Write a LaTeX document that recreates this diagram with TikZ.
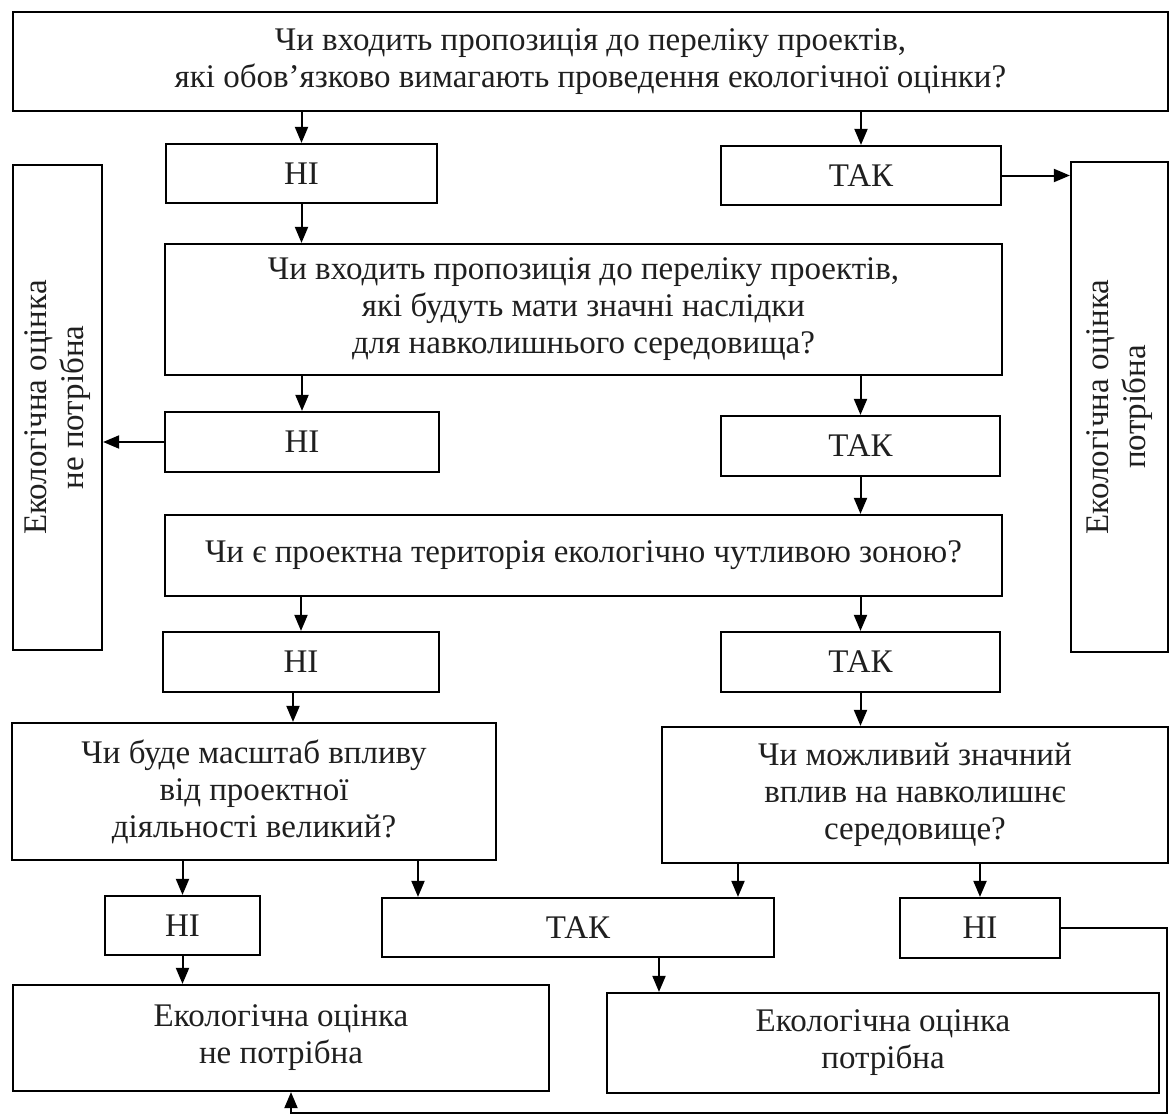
\documentclass[tikz,border=0pt]{standalone}
\usepackage{fontspec}
\setmainfont{Liberation Serif}
\usetikzlibrary{arrows.meta}
\newcommand{\vlabel}[1]{\rotatebox{90}{\setlength{\tabcolsep}{0pt}\begin{tabular}{c}#1\end{tabular}}}
\begin{document}
\begin{tikzpicture}[x=1pt,y=-1pt,
  box/.style={draw, line width=2.2pt, rectangle, inner sep=0pt, align=center,
              font=\fontsize{33}{37}\selectfont, text=black!88},
  arr/.style={line width=2pt, -{Triangle[length=16pt,width=13pt]}},
]
\useasboundingbox (0,0) rectangle (1171,1116);

% question and answer boxes
\node[box, minimum width=1155, minimum height=99] (top) at (590.5,61.5)
  {Чи входить пропозиція до переліку проектів,\\які обов’язково вимагають проведення екологічної оцінки?};
\node[box, minimum width=271, minimum height=59] (no1) at (301.5,173.5) {НІ};
\node[box, minimum width=280, minimum height=59] (yes1) at (861,175.5) {ТАК};

\node[box, minimum width=89, minimum height=485] (lv) at (57.5,407.5)
  {\vlabel{Екологічна оцінка\\не потрібна}};
\node[box, minimum width=97, minimum height=490] (rv) at (1119.5,407)
  {\vlabel{Екологічна оцінка\\потрібна}};

\node[box, minimum width=837, minimum height=131] (q2) at (583.5,309.5)
  {Чи входить пропозиція до переліку проектів,\\які будуть мати значні наслідки\\для навколишнього середовища?};
\node[box, minimum width=274, minimum height=60] (no2) at (302,442) {НІ};
\node[box, minimum width=279, minimum height=60] (yes2) at (860.5,446) {ТАК};

\node[box, minimum width=837, minimum height=81] (q3) at (583.5,555.5)
  {Чи є проектна територія екологічно чутливою зоною?};
\node[box, minimum width=276, minimum height=60] (no3) at (301,662) {НІ};
\node[box, minimum width=279, minimum height=60] (yes3) at (860.5,662) {ТАК};

\node[box, minimum width=484, minimum height=137] (q4) at (254,791.5)
  {Чи буде масштаб впливу\\від проектної\\діяльності великий?};
\node[box, minimum width=506, minimum height=136] (q5) at (915,795)
  {Чи можливий значний\\вплив на навколишнє\\середовище?};

\node[box, minimum width=155, minimum height=59] (no4) at (182.5,925.5) {НІ};
\node[box, minimum width=392, minimum height=59] (yes4) at (578,927.5) {ТАК};
\node[box, minimum width=160, minimum height=60] (no5) at (980,928) {НІ};

\node[box, minimum width=536, minimum height=106] (endL) at (281,1038)
  {Екологічна оцінка\\не потрібна};
\node[box, minimum width=552, minimum height=100] (endR) at (883,1043)
  {Екологічна оцінка\\потрібна};

% columns of the connectors that leave a box off its centre
\coordinate (c293) at (293,0);
\coordinate (c418) at (418,0);
\coordinate (c738) at (738,0);
\coordinate (c659) at (659,0);
\coordinate (loopR) at (1167,1113);
\coordinate (loopL) at (291,1113);

% connectors
\draw[arr] (top.south -| no1.north) -- (no1.north);
\draw[arr] (top.south -| yes1.north) -- (yes1.north);
\draw[arr] (yes1.east) -- (rv.west |- yes1.east);
\draw[arr] (no1.south) -- (q2.north -| no1.south);
\draw[arr] (q2.south -| no2.north) -- (no2.north);
\draw[arr] (q2.south -| yes2.north) -- (yes2.north);
\draw[arr] (no2.west) -- (lv.east |- no2.west);
\draw[arr] (yes2.south) -- (q3.north -| yes2.south);
\draw[arr] (q3.south -| no3.north) -- (no3.north);
\draw[arr] (q3.south -| yes3.north) -- (yes3.north);
\draw[arr] (no3.south -| c293) -- (q4.north -| c293);
\draw[arr] (yes3.south) -- (q5.north -| yes3.south);
\draw[arr] (q4.south -| no4.north) -- (no4.north);
\draw[arr] (q4.south -| c418) -- (yes4.north -| c418);
\draw[arr] (q5.south -| c738) -- (yes4.north -| c738);
\draw[arr] (q5.south -| no5.north) -- (no5.north);
\draw[arr] (no4.south) -- (endL.north -| no4.south);
\draw[arr] (yes4.south -| c659) -- (endR.north -| c659);
\draw[arr] (no5.east) -| (loopR) -- (loopL) -- (endL.south -| loopL);
\end{tikzpicture}
\end{document}
